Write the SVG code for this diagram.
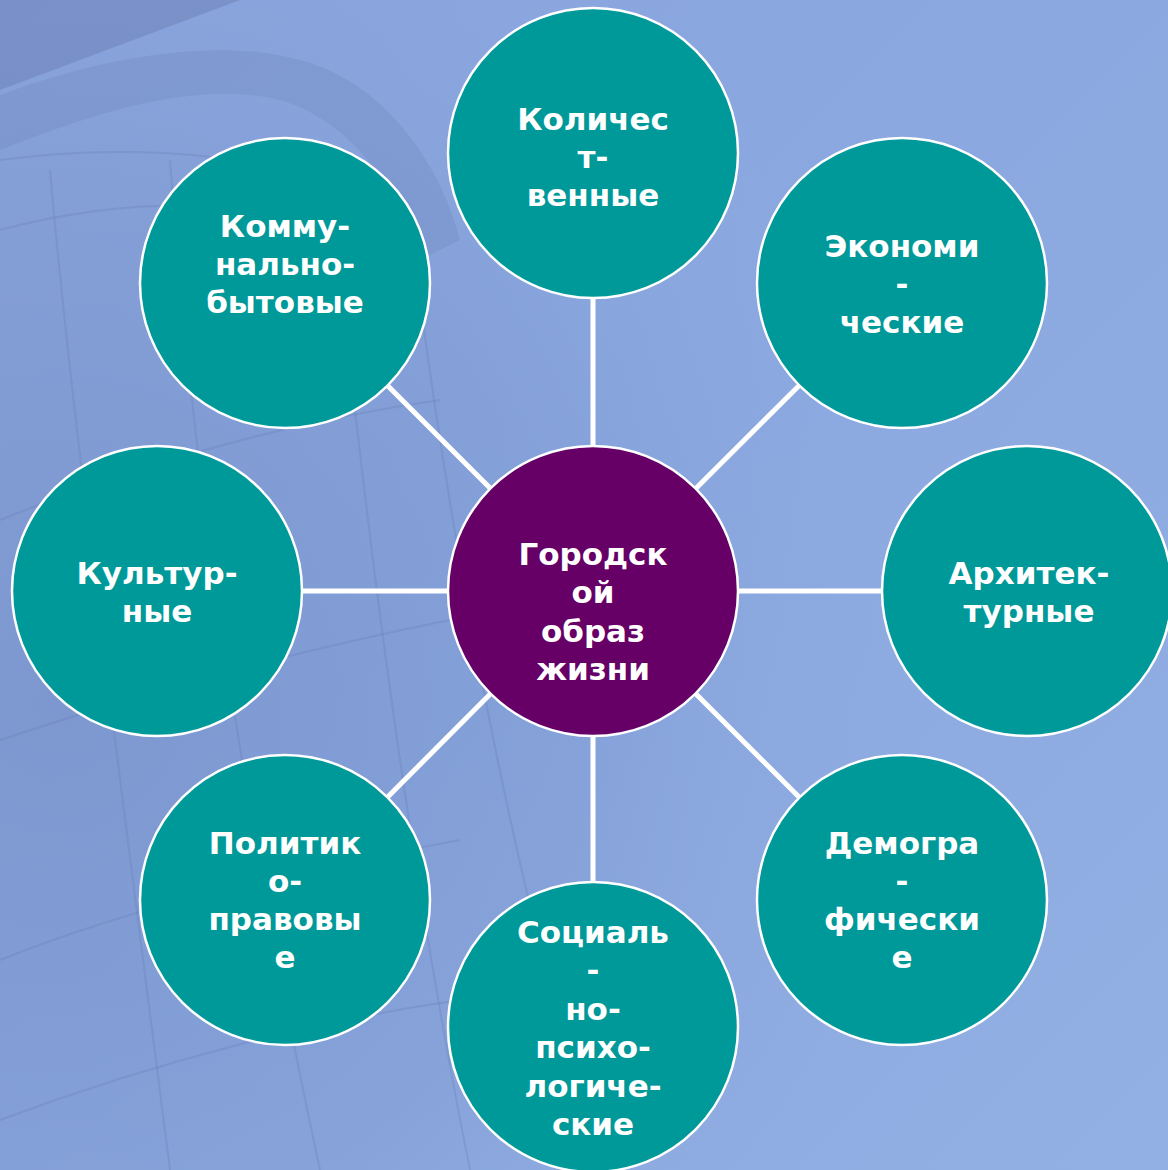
<svg xmlns="http://www.w3.org/2000/svg" width="1168" height="1170" viewBox="0 0 1168 1170">
  <defs>
    <style>
      .node { fill: #009999; stroke: #ffffff; stroke-width: 2.5; }
      .hub { fill: #660066; stroke: #ffffff; stroke-width: 2.5; }
      .lbl { font-family: "DejaVu Sans", Verdana, sans-serif; font-weight: bold; font-size: 31px; fill: #ffffff; text-anchor: middle; }
      .conn { stroke: #ffffff; stroke-width: 5; fill: none; }
      .grid { stroke: #5f77b0; stroke-opacity: 0.25; stroke-width: 2; fill: none; }
    </style>
    <linearGradient id="bg" x1="0" y1="0" x2="1" y2="1">
      <stop offset="0" stop-color="#8aa4dc"/>
      <stop offset="0.5" stop-color="#8ba8e0"/>
      <stop offset="1" stop-color="#93b0e4"/>
    </linearGradient>
    <radialGradient id="globe" cx="0.05" cy="0.6" r="0.75">
      <stop offset="0" stop-color="#6f88c0" stop-opacity="0.5"/>
      <stop offset="0.6" stop-color="#7690c8" stop-opacity="0.3"/>
      <stop offset="1" stop-color="#8aa8e0" stop-opacity="0"/>
    </radialGradient>
  </defs>

  <!-- background -->
  <rect x="0" y="0" width="1168" height="1170" fill="url(#bg)"/>
  <rect x="0" y="0" width="1168" height="1170" fill="url(#globe)"/>
  <path d="M0,0 L240,0 L0,90 Z" fill="#6d84b8" fill-opacity="0.55"/>
  <path d="M0,95 C120,50 230,40 300,60 C380,80 440,160 460,240 L420,260 C400,190 350,120 280,100 C200,80 100,110 0,150 Z" fill="#7089c0" fill-opacity="0.35"/>
  <path d="M0,160 C150,140 300,160 380,200" class="grid"/>
  <path d="M0,230 C150,190 300,200 420,250" class="grid"/>
  <path d="M0,520 C150,460 300,420 440,400" class="grid"/>
  <path d="M0,740 C150,690 300,650 450,620" class="grid"/>
  <path d="M0,960 C150,900 300,870 460,840" class="grid"/>
  <path d="M0,1120 C160,1060 320,1020 460,1000" class="grid"/>
  <path d="M50,170 C70,400 110,700 170,1170" class="grid"/>
  <path d="M170,160 C190,450 240,800 320,1170" class="grid"/>
  <path d="M330,180 C360,470 400,820 470,1170" class="grid"/>
  <path d="M420,300 C460,600 520,900 600,1170" class="grid" stroke-opacity="0.15"/>

  <!-- connectors -->
  <g id="connectors">
    <line class="conn" x1="593" y1="591" x2="593" y2="153"/>
    <line class="conn" x1="593" y1="591" x2="902" y2="283"/>
    <line class="conn" x1="593" y1="591" x2="1027" y2="591"/>
    <line class="conn" x1="593" y1="591" x2="902" y2="900"/>
    <line class="conn" x1="593" y1="591" x2="593" y2="1027"/>
    <line class="conn" x1="593" y1="591" x2="285" y2="900"/>
    <line class="conn" x1="593" y1="591" x2="157" y2="591"/>
    <line class="conn" x1="593" y1="591" x2="285" y2="283"/>
  </g>

  <g id="node-center">
    <circle class="hub" cx="593" cy="591" r="145"/>
    <text class="lbl" x="593" y="565">Городск</text>
    <text class="lbl" x="593" y="603">ой</text>
    <text class="lbl" x="593" y="642">образ</text>
    <text class="lbl" x="593" y="680">жизни</text>
  </g>

  <g id="node-kolichestvennye">
    <circle class="node" cx="593" cy="153" r="145"/>
    <text class="lbl" x="593" y="130">Количес</text>
    <text class="lbl" x="593" y="168">т-</text>
    <text class="lbl" x="593" y="206">венные</text>
  </g>

  <g id="node-ekonomicheskie">
    <circle class="node" cx="902" cy="283" r="145"/>
    <text class="lbl" x="902" y="257">Экономи</text>
    <text class="lbl" x="902" y="295">-</text>
    <text class="lbl" x="902" y="333">ческие</text>
  </g>

  <g id="node-arkhitekturnye">
    <circle class="node" cx="1027" cy="591" r="145"/>
    <text class="lbl" x="1029" y="584">Архитек-</text>
    <text class="lbl" x="1029" y="622">турные</text>
  </g>

  <g id="node-demograficheskie">
    <circle class="node" cx="902" cy="900" r="145"/>
    <text class="lbl" x="902" y="854">Демогра</text>
    <text class="lbl" x="902" y="892">-</text>
    <text class="lbl" x="902" y="930">фически</text>
    <text class="lbl" x="902" y="968">е</text>
  </g>

  <g id="node-sotsialno">
    <circle class="node" cx="593" cy="1027" r="145"/>
    <text class="lbl" x="593" y="943">Социаль</text>
    <text class="lbl" x="593" y="981">-</text>
    <text class="lbl" x="593" y="1020">но-</text>
    <text class="lbl" x="593" y="1058">психо-</text>
    <text class="lbl" x="593" y="1097">логиче-</text>
    <text class="lbl" x="593" y="1135">ские</text>
  </g>

  <g id="node-politiko">
    <circle class="node" cx="285" cy="900" r="145"/>
    <text class="lbl" x="285" y="854">Политик</text>
    <text class="lbl" x="285" y="892">о-</text>
    <text class="lbl" x="285" y="930">правовы</text>
    <text class="lbl" x="285" y="968">е</text>
  </g>

  <g id="node-kulturnye">
    <circle class="node" cx="157" cy="591" r="145"/>
    <text class="lbl" x="157" y="584">Культур-</text>
    <text class="lbl" x="157" y="622">ные</text>
  </g>

  <g id="node-kommunalno">
    <circle class="node" cx="285" cy="283" r="145"/>
    <text class="lbl" x="285" y="237">Комму-</text>
    <text class="lbl" x="285" y="275">нально-</text>
    <text class="lbl" x="285" y="313">бытовые</text>
  </g>
</svg>
